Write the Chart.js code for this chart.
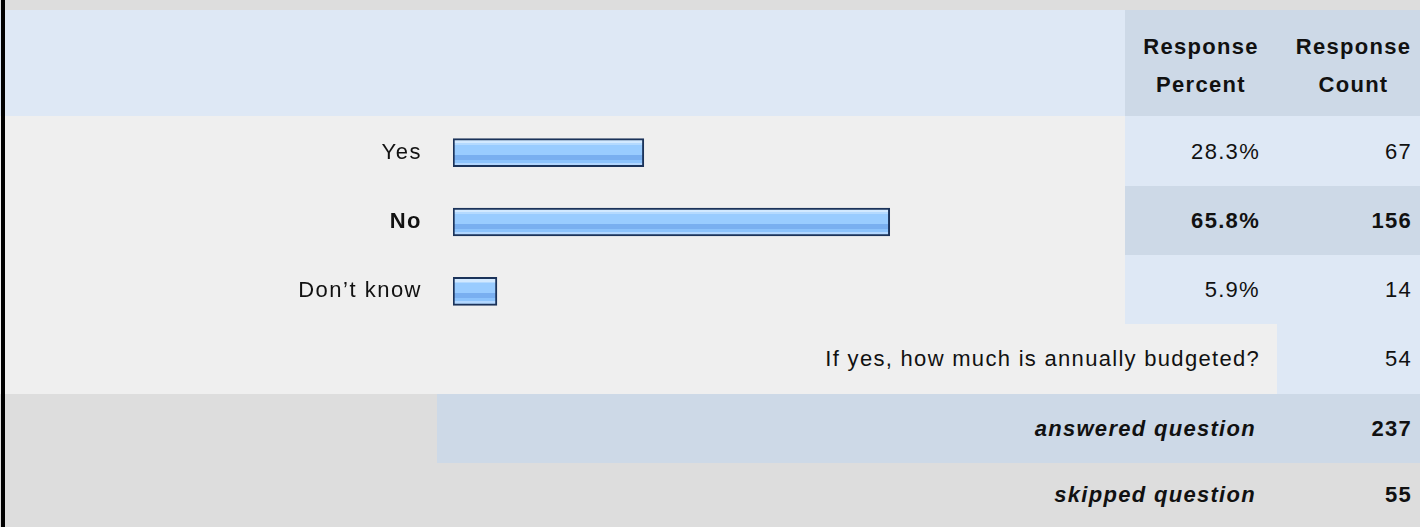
<!DOCTYPE html>
<html>
<head>
<meta charset="utf-8">
<title>Survey results</title>
<script src="https://cdn.jsdelivr.net/npm/chart.js@4.4.1/dist/chart.umd.min.js"></script>
<style>
  html, body { margin: 0; padding: 0; }
  body {
    width: 1420px; height: 527px; overflow: hidden; position: relative;
    background: #dddddd;
    font-family: "Liberation Sans", Arial, Helvetica, sans-serif;
    font-size: 22px; letter-spacing: 1.3px; color: #111;
  }
  .cell {
    position: absolute; box-sizing: border-box; display: flex;
    align-items: center; justify-content: flex-end; white-space: nowrap;
  }
  .frame { position: absolute; left: 1px; top: 0; width: 4px; height: 527px; background: #000; }
  #chartBox { position: absolute; left: 5px; top: 118px; width: 1120px; height: 208px; }
</style>
</head>
<body>
<div id="chartBox"><canvas id="answersChart"></canvas></div>

<script>
// answer choices and their results
const categories = ['Yes', 'No', 'Don’t know'];
const responsePercent = [28.3, 65.8, 5.9];
const responseCount = [67, 156, 14];

const otherLabel = 'If yes, how much is annually budgeted?';
const otherCount = 54;
const answeredCount = 237;
const skippedCount = 55;

const FONT = '"Liberation Sans", Arial, Helvetica, sans-serif';
const GRAY_ROW = '#efefef';
const LIGHT_BLUE = '#dee8f5';
const MID_BLUE = '#cdd9e7';
const DARK_GRAY = '#dddddd';
const BAR_THICKNESS = 28;

// the most chosen answer is shown in bold
const topIndex = responseCount.indexOf(Math.max(...responseCount));

/**
 * Adds one absolutely positioned table cell to the page.
 */
function cell(left, top, width, height, bg, text, extra) {
    const d = document.createElement('div');
    d.className = 'cell';
    Object.assign(d.style, {
        left: left + 'px', top: top + 'px',
        width: width + 'px', height: height + 'px',
        background: bg
    }, extra || {});
    if (text !== undefined) d.innerHTML = text;
    document.body.insertBefore(d, document.getElementById('chartBox'));
    return d;
}

function buildTable() {
    const head = { justifyContent: 'center', textAlign: 'center', lineHeight: '38px', fontWeight: 'bold', paddingTop: '5px' };
    cell(0, 0, 1420, 10, DARK_GRAY);
    cell(0, 10, 1125, 106, LIGHT_BLUE);
    cell(1125, 10, 152, 106, MID_BLUE, 'Response<br>Percent', head);
    cell(1277, 10, 143, 106, MID_BLUE, 'Response<br>Count', Object.assign({}, head, { paddingLeft: '10px' }));

    const rowTops = [116, 186, 255];
    const rowHeights = [70, 69, 69];
    categories.forEach((c, i) => {
        const top = rowTops[i], h = rowHeights[i];
        const hot = i === topIndex;
        const bg = hot ? MID_BLUE : LIGHT_BLUE;
        const weight = hot ? 'bold' : 'normal';
        cell(0, top, 1125, h, GRAY_ROW);
        cell(1125, top, 152, h, bg, responsePercent[i].toFixed(1) + '%', { paddingRight: '17px', paddingTop: '1px', fontWeight: weight });
        cell(1277, top, 143, h, bg, String(responseCount[i]), { paddingRight: '8px', paddingTop: '1px', fontWeight: weight });
    });

    cell(0, 324, 1277, 70, GRAY_ROW, otherLabel, { paddingRight: '17px' });
    cell(1277, 324, 143, 70, LIGHT_BLUE, String(otherCount), { paddingRight: '8px' });

    const total = { fontWeight: 'bold', fontStyle: 'italic' };
    cell(0, 394, 437, 69, DARK_GRAY);
    cell(437, 394, 840, 69, MID_BLUE, 'answered question', Object.assign({ paddingRight: '21px' }, total));
    cell(1277, 394, 143, 69, MID_BLUE, String(answeredCount), Object.assign({ paddingRight: '8px' }, total, { fontStyle: 'normal' }));
    cell(0, 463, 1277, 64, DARK_GRAY, 'skipped question', Object.assign({ paddingRight: '21px' }, total));
    cell(1277, 463, 143, 64, DARK_GRAY, String(skippedCount), Object.assign({ paddingRight: '8px' }, total, { fontStyle: 'normal' }));

    const frame = document.createElement('div');
    frame.className = 'frame';
    document.body.appendChild(frame);
}

/**
 * Striped blue fill for a bar, built from the bar's own position on the y scale.
 */
function barFill(context) {
    const chart = context.chart;
    const yScale = chart.scales.y;
    if (!chart.chartArea || !yScale) return '#99ccff';
    const top = yScale.getPixelForValue(context.dataIndex) - BAR_THICKNESS / 2;
    const g = chart.ctx.createLinearGradient(0, top, 0, top + BAR_THICKNESS);
    const bands = [
        [0.00, 0.15, '#d2e9ff'],
        [0.15, 0.22, '#b4daff'],
        [0.22, 0.57, '#99ccff'],
        [0.57, 0.75, '#79aff0'],
        [0.75, 0.86, '#8cc3fc'],
        [0.86, 1.00, '#b2d7ff']
    ];
    bands.forEach(([a, b, col]) => { g.addColorStop(a, col); g.addColorStop(b, col); });
    return g;
}

// canvas letter spacing for the answer labels
const spacingPlugin = {
    id: 'labelSpacing',
    beforeDraw(chart) { chart.ctx.letterSpacing = '1.5px'; }
};

function initAnswersChart() {
    const ctx = document.getElementById('answersChart');
    new Chart(ctx.getContext('2d'), {
        type: 'bar',
        data: {
            labels: categories,
            datasets: [{
                data: responsePercent,
                base: -0.8,
                backgroundColor: barFill,
                borderColor: '#1b335a',
                borderWidth: 2,
                borderSkipped: false,
                barThickness: BAR_THICKNESS
            }]
        },
        options: {
            indexAxis: 'y',
            responsive: true,
            maintainAspectRatio: false,
            animation: false,
            events: [],
            layout: { padding: { left: 0, right: 11, top: 0, bottom: 0 } },
            plugins: { legend: { display: false }, tooltip: { enabled: false } },
            scales: {
                x: { display: false, min: -0.8, max: 100 },
                y: {
                    grid: { display: false, drawTicks: false },
                    border: { display: false },
                    // fixed label column; no extra space above/below the rows
                    afterFit: axis => {
                        axis.width = 448;
                        axis.paddingTop = 0;
                        axis.paddingBottom = 0;
                    },
                    ticks: {
                        color: '#111',
                        padding: 31,
                        font: c => ({ family: FONT, size: 22, weight: c.index === topIndex ? 'bold' : 'normal' })
                    }
                }
            }
        },
        plugins: [spacingPlugin]
    });
}

document.addEventListener('DOMContentLoaded', function() {
    buildTable();
    initAnswersChart();
});
</script>
</body>
</html>
